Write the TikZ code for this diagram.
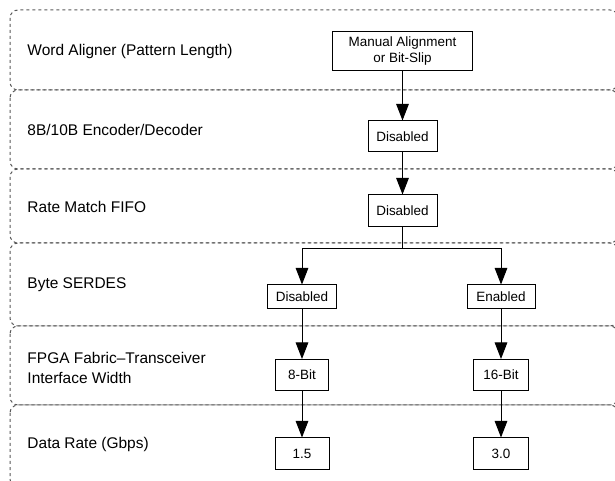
\documentclass[tikz,border=0pt]{standalone}
\usepackage{fontspec}
\setmainfont{Liberation Sans}
\usetikzlibrary{arrows.meta}

\begin{document}
\begin{tikzpicture}[x=0.75pt,y=-0.75pt,line width=0.75pt,->/.style={-{Triangle[width=9.5pt,length=12.5pt]}}]
  \tikzstyle{lane}=[draw=black!65, dash pattern=on 2.25pt off 2.25pt, rounded corners=6pt]
  \tikzstyle{lanetext}=[anchor=west, align=left, inner sep=0pt, font=\fontsize{11.6}{15}\selectfont]
  \tikzstyle{choice}=[draw, fill=white, inner sep=0pt, align=center, font=\fontsize{10.1}{12.5}\selectfont]
  \useasboundingbox (0,0) rectangle (615,481);

  % lanes
  \draw[lane] (10,10) rectangle (618,90);
  \draw[lane] (10,90) rectangle (618,169);
  \draw[lane] (10,169) rectangle (618,243);
  \draw[lane] (10,243) rectangle (618,326);
  \draw[lane] (10,326) rectangle (618,405);
  \draw[lane] (10,405) rectangle (618,487);

  \node[lanetext] (L_1) at (27,52)    {Word Aligner (Pattern Length)};
  \node[lanetext] (L_2) at (27,130)   {8B/10B Encoder/Decoder};
  \node[lanetext] (L_3) at (27,206.5) {Rate Match FIFO};
  \node[lanetext] (L_4) at (27,284.5) {Byte SERDES};
  \node[lanetext] (L_5) at (27,368)   {FPGA Fabric--Transceiver\\Interface Width};
  \node[lanetext] (L_6) at (27,445)   {Data Rate (Gbps)};

  % settings
  \node[choice, minimum width=105pt, minimum height=29.5pt] (B_1) at (402.5,51) {Manual Alignment\\or Bit-Slip};
  \node[choice, minimum width=51.75pt, minimum height=23.25pt] (B_2) at (402.5,136.5) {Disabled};
  \node[choice, minimum width=51.75pt, minimum height=24pt] (B_3) at (402.5,211) {Disabled};
  \node[choice, minimum width=51.75pt, minimum height=18pt] (B_4) at (302,297) {Disabled};
  \node[choice, minimum width=51pt, minimum height=18pt] (B_5) at (501,297) {Enabled};
  \node[choice, minimum width=39.75pt, minimum height=23.25pt] (B_6) at (302,375) {8-Bit};
  \node[choice, minimum width=41.25pt, minimum height=23.25pt] (B_7) at (501,375) {16-Bit};
  \node[choice, minimum width=40.5pt, minimum height=23.25pt] (B_8) at (302,453.5) {1.5};
  \node[choice, minimum width=41.25pt, minimum height=23.25pt] (B_9) at (501,453.5) {3.0};
  \coordinate (J) at (402.5,249);

  \draw[->] (B_1) -- (B_2);
  \draw[->] (B_2) -- (B_3);
  \draw (B_3) -- (J);
  \draw[->] (J) -| (B_4);
  \draw[->] (J) -| (B_5);
  \draw[->] (B_4) -- (B_6);
  \draw[->] (B_5) -- (B_7);
  \draw[->] (B_6) -- (B_8);
  \draw[->] (B_7) -- (B_9);
\end{tikzpicture}
\end{document}
